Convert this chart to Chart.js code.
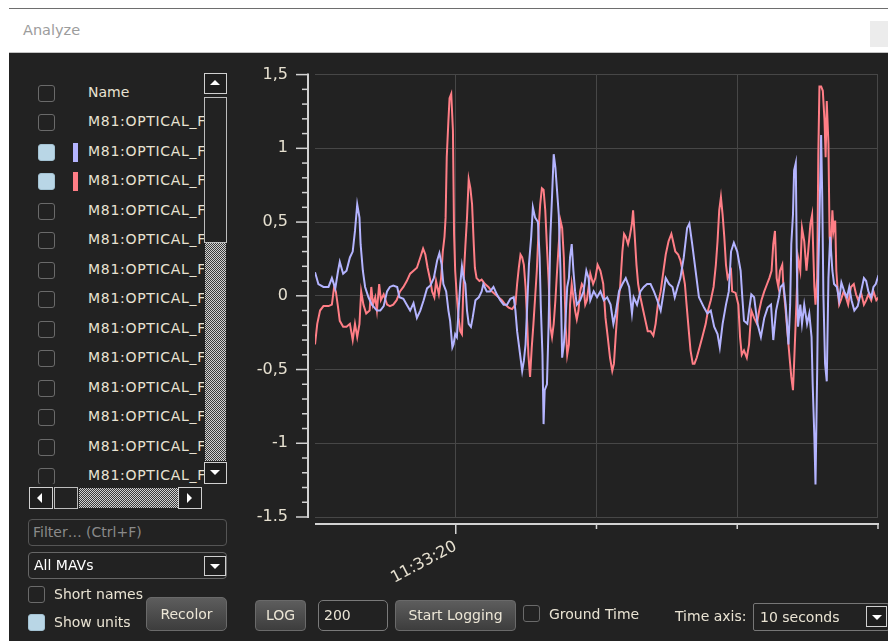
<!DOCTYPE html>
<html>
<head>
<meta charset="utf-8">
<title>Analyze</title>
<script src="https://cdn.jsdelivr.net/npm/chart.js@4.4.1/dist/chart.umd.min.js"></script>
<style>
  html, body { margin: 0; padding: 0; }
  body { width: 888px; height: 641px; position: relative; overflow: hidden; background: #fff;
         font-family: "DejaVu Sans", sans-serif; font-size: 14px; color: #e9e3d3; }
  .abs { position: absolute; }
  .cb { position: absolute; width: 15px; height: 15px; border: 1px solid #6a6a6a; border-radius: 3px; }
  .cb.on { background: #b9d6e6; border-color: #a3c2d2; }
  .dither { background: repeating-conic-gradient(#d2d2d2 0% 25%, #3a3a3a 0% 50%) 0 0 / 2px 2px; }
  .arrowbox { position: absolute; box-sizing: border-box; border: 1px solid #d0d0d0; background: #1e1e1e; }
  .tri-up, .tri-down, .tri-left, .tri-right { position: absolute; width: 0; height: 0; }
  .tri-up { border-left: 5px solid transparent; border-right: 5px solid transparent; border-bottom: 5px solid #fff; }
  .tri-down { border-left: 5px solid transparent; border-right: 5px solid transparent; border-top: 5px solid #fff; }
  .tri-left { border-top: 5px solid transparent; border-bottom: 5px solid transparent; border-right: 5px solid #fff; }
  .tri-right { border-top: 5px solid transparent; border-bottom: 5px solid transparent; border-left: 5px solid #fff; }
  .btn { position: absolute; box-sizing: border-box; background: linear-gradient(#5d5d5d, #3d3d3d);
         border: 1px solid #6a6a6a; border-radius: 4px; text-align: center; color: #ece6d6; }
  .field { position: absolute; box-sizing: border-box; border: 1px solid #707070; border-radius: 4px; background: #222; }
  .row { position: absolute; left: 0; height: 29.5px; width: 260px; white-space: nowrap; }
  .row span.name { letter-spacing: 0.7px; }
</style>
</head>
<body>
<!-- title bar -->
<div class="abs" style="left:9px;top:8px;width:879px;height:1px;background:#6e6e6e"></div>
<div class="abs" style="left:23px;top:22px;color:#9c9c9c;font-size:14.5px">Analyze</div>
<div class="abs" style="left:870px;top:21px;width:18px;height:26px;background:#ececec"></div>
<div class="abs" style="left:9px;top:52px;width:879px;height:1px;background:#c4c4c4"></div>
<div class="abs" style="left:9px;top:53px;width:879px;height:588px;background:#222"></div>

<!-- plot (drawn before the widgets so they stay on top) -->
<div class="abs" style="left:240px;top:38px;width:667px;height:558px">
  <canvas id="plot" width="667" height="558" style="width:667px;height:558px"></canvas>
</div>

<!-- channel list -->
<div class="abs" id="list" style="left:29px;top:68px;width:175px;height:416px;overflow:hidden"></div>

<!-- vertical scrollbar -->
<div class="arrowbox" style="left:204px;top:73px;width:23px;height:21px"><div class="tri-up" style="left:5px;top:6px"></div></div>
<div class="abs" style="left:204px;top:97px;width:23px;height:146px;box-sizing:border-box;border:1.5px solid #bdbdbd;background:#222"></div>
<div class="abs dither" style="left:205px;top:243px;width:21px;height:218px"></div>
<div class="arrowbox" style="left:204px;top:462px;width:23px;height:22px"><div class="tri-down" style="left:5px;top:7px"></div></div>

<!-- horizontal scrollbar -->
<div class="arrowbox" style="left:29px;top:487px;width:24px;height:22px"><div class="tri-left" style="left:7px;top:5px"></div></div>
<div class="abs" style="left:54px;top:487px;width:24px;height:22px;box-sizing:border-box;border:1.5px solid #bdbdbd;background:#222"></div>
<div class="abs dither" style="left:79px;top:488px;width:99px;height:20px"></div>
<div class="arrowbox" style="left:178px;top:487px;width:24px;height:22px"><div class="tri-right" style="left:8px;top:5px"></div></div>

<!-- filter and combo -->
<div class="field" style="left:28px;top:519px;width:199px;height:27px;border-color:#555"><span class="abs" style="left:4px;top:4px;color:#8a8a8a">Filter… (Ctrl+F)</span></div>
<div class="field" style="left:28px;top:552px;width:199px;height:27px;border-color:#666"><span class="abs" style="left:5px;top:4px;color:#fff">All MAVs</span>
  <div class="arrowbox" style="left:175px;top:3px;width:22px;height:20px"><div class="tri-down" style="left:5px;top:7px"></div></div></div>

<div class="cb" style="left:28px;top:586px"></div>
<div class="abs" style="left:54px;top:586px">Short names</div>
<div class="cb on" style="left:28px;top:614px"></div>
<div class="abs" style="left:54px;top:614px">Show units</div>
<div class="btn" style="left:146px;top:597px;width:81px;height:34px;line-height:32px;border-radius:5px">Recolor</div>

<!-- bottom bar -->
<div class="btn" style="left:255px;top:600px;width:51px;height:31px;line-height:29px">LOG</div>
<div class="field" style="left:318px;top:600px;width:70px;height:31px;border-color:#7a7a7a;border-radius:5px"><span class="abs" style="left:5px;top:6px">200</span></div>
<div class="btn" style="left:395px;top:600px;width:121px;height:31px;line-height:29px">Start Logging</div>
<div class="cb" style="left:523px;top:605px"></div>
<div class="abs" style="left:549px;top:606px">Ground Time</div>
<div class="abs" style="left:675px;top:608px">Time axis:</div>
<div class="field" style="left:753px;top:603px;width:136px;height:28px;border-color:#777;border-radius:2px"><span class="abs" style="left:6px;top:5px">10 seconds</span>
  <div class="arrowbox" style="left:112px;top:2px;width:21px;height:21px"><div class="tri-down" style="left:5px;top:8px"></div></div></div>

<script>
// list entries
const channelNames = ['M81:OPTICAL_FLOW', 'M81:OPTICAL_FLOW', 'M81:OPTICAL_FLOW', 'M81:OPTICAL_FLOW',
  'M81:OPTICAL_FLOW', 'M81:OPTICAL_FLOW', 'M81:OPTICAL_FLOW', 'M81:OPTICAL_FLOW', 'M81:OPTICAL_FLOW',
  'M81:OPTICAL_FLOW', 'M81:OPTICAL_FLOW', 'M81:OPTICAL_FLOW', 'M81:OPTICAL_FLOW'];
const channelColors = [null, '#b4b4ff', '#ff7e86', null, null, null, null, null, null, null, null, null, null];

// plotted series (time in seconds after 11:33:00)
const blueTimes = [17.50, 17.56, 17.65, 17.74, 17.80, 17.86, 17.91, 17.94, 18.00, 18.06, 18.12, 18.17, 18.21, 18.25, 18.29,
  18.31, 18.35, 18.39, 18.45, 18.51, 18.60, 18.66, 18.72, 18.78, 18.83, 18.89, 18.96, 19.00, 19.07, 19.13, 19.19, 19.25,
  19.31, 19.37, 19.43, 19.49, 19.55, 19.61, 19.67, 19.71, 19.75, 19.78, 19.83, 19.87, 19.90, 19.94, 19.96, 19.99, 20.02,
  20.05, 20.08, 20.11, 20.14, 20.17, 20.20, 20.23, 20.27, 20.30, 20.35, 20.41, 20.46, 20.49, 20.55, 20.61, 20.67, 20.73,
  20.79, 20.85, 20.91, 20.97, 21.03, 21.06, 21.09, 21.12, 21.15, 21.18, 21.21, 21.24, 21.27, 21.30, 21.34, 21.37, 21.41,
  21.46, 21.49, 21.51, 21.54, 21.56, 21.58, 21.62, 21.65, 21.68, 21.71, 21.74, 21.77, 21.80, 21.83, 21.86, 21.89, 21.92,
  21.95, 21.98, 22.01, 22.03, 22.06, 22.09, 22.12, 22.15, 22.21, 22.27, 22.32, 22.36, 22.39, 22.45, 22.51, 22.57, 22.63,
  22.69, 22.75, 22.80, 22.84, 22.90, 22.96, 23.02, 23.08, 23.13, 23.16, 23.22, 23.28, 23.34, 23.40, 23.46, 23.52, 23.58,
  23.64, 23.67, 23.73, 23.79, 23.85, 23.89, 23.94, 23.99, 24.05, 24.11, 24.15, 24.20, 24.26, 24.32, 24.41, 24.47, 24.53,
  24.59, 24.65, 24.69, 24.74, 24.80, 24.85, 24.89, 24.94, 25.00, 25.06, 25.09, 25.12, 25.18, 25.21, 25.25, 25.30, 25.33,
  25.36, 25.42, 25.48, 25.54, 25.60, 25.64, 25.69, 25.74, 25.77, 25.82, 25.86, 25.91, 25.94, 25.96, 25.99, 26.01, 26.04,
  26.06, 26.08, 26.12, 26.15, 26.19, 26.24, 26.28, 26.32, 26.34, 26.37, 26.39, 26.42, 26.44, 26.46, 26.49, 26.51, 26.53,
  26.56, 26.59, 26.62, 26.65, 26.69, 26.72, 26.77, 26.81, 26.85, 26.90, 26.95, 26.99, 27.03, 27.08, 27.14, 27.20, 27.25,
  27.29, 27.33, 27.38, 27.42, 27.46, 27.51, 27.54];
const blueValues = [0.16, 0.08, 0.06, 0.06, 0.12, 0.05, 0.17, 0.23, 0.15, 0.17, 0.26, 0.30, 0.44, 0.62, 0.53,
  0.35, 0.17, 0.06, -0.01, -0.06, -0.10, -0.10, -0.07, 0.03, 0.06, 0.07, 0.06, -0.01, -0.02, -0.06, -0.10, -0.05,
  -0.15, -0.10, -0.03, 0.05, 0.07, 0.12, 0.24, 0.29, 0.21, 0.08, 0.03, -0.10, -0.17, -0.35, -0.33, -0.26, -0.28,
  -0.10, 0.08, 0.20, 0.12, 0.08, -0.10, -0.19, -0.21, -0.15, -0.03, -0.01, 0.03, 0.08, 0.03, 0.03, 0.06, 0.01,
  -0.03, -0.06, -0.06, -0.02, -0.01, -0.10, -0.24, -0.33, -0.42, -0.51, -0.44, -0.33, -0.06, 0.21, 0.40, 0.60, 0.53,
  0.50, 0.26, -0.06, -0.40, -0.87, -0.64, -0.60, -0.19, 0.40, 0.67, 0.96, 0.87, 0.71, 0.55, 0.17, -0.42, -0.33,
  -0.17, 0.06, 0.12, 0.26, 0.35, 0.17, 0.03, -0.06, -0.03, 0.03, 0.17, 0.12, -0.03, 0.03, -0.01, 0.03, -0.03,
  -0.01, -0.06, -0.19, -0.12, 0.03, 0.08, 0.12, 0.06, -0.12, -0.01, -0.06, 0.03, 0.06, 0.08, 0.08, 0.03, -0.03,
  -0.10, -0.03, 0.12, 0.08, 0.06, -0.01, 0.06, 0.12, 0.26, 0.46, 0.49, 0.35, 0.17, -0.01, -0.08, -0.12, -0.10,
  -0.21, -0.26, -0.35, -0.19, -0.06, 0.03, 0.30, 0.36, 0.30, 0.17, -0.01, -0.17, -0.19, -0.10, 0.01, -0.01, -0.10,
  -0.19, -0.28, -0.15, -0.08, -0.06, -0.30, -0.10, -0.01, 0.06, 0.08, -0.06, -0.33, -0.06, 0.35, 0.55, 0.85, 0.90,
  0.17, -0.21, -0.06, -0.19, -0.06, -0.19, -0.12, -0.28, -0.60, -0.96, -1.28, -0.51, 0.17, 0.51, 1.09, 0.67, 0.01,
  -0.46, -0.58, 0.12, 0.40, 0.17, 0.08, 0.06, -0.03, 0.09, 0.03, -0.01, 0.06, -0.03, -0.10, -0.07, 0.03, 0.12,
  0.10, 0.03, -0.01, 0.06, 0.08, 0.14, 0.12];

const redTimes = [17.50, 17.54, 17.59, 17.65, 17.74, 17.80, 17.84, 17.87, 17.91, 17.94, 18.00, 18.06, 18.12, 18.17, 18.21,
  18.25, 18.29, 18.32, 18.36, 18.41, 18.47, 18.50, 18.53, 18.57, 18.60, 18.64, 18.67, 18.72, 18.78, 18.83, 18.89, 18.95,
  19.01, 19.07, 19.13, 19.19, 19.25, 19.31, 19.37, 19.42, 19.46, 19.50, 19.55, 19.58, 19.62, 19.65, 19.70, 19.74, 19.77,
  19.80, 19.82, 19.84, 19.87, 19.89, 19.92, 19.95, 19.97, 19.99, 20.02, 20.05, 20.08, 20.11, 20.13, 20.15, 20.17, 20.20,
  20.23, 20.26, 20.29, 20.32, 20.34, 20.37, 20.42, 20.46, 20.52, 20.58, 20.64, 20.70, 20.76, 20.82, 20.88, 20.94, 21.00,
  21.06, 21.09, 21.12, 21.15, 21.18, 21.21, 21.24, 21.27, 21.29, 21.32, 21.35, 21.38, 21.41, 21.44, 21.47, 21.50, 21.53,
  21.56, 21.59, 21.62, 21.65, 21.68, 21.71, 21.74, 21.77, 21.80, 21.83, 21.86, 21.89, 21.92, 21.95, 21.98, 22.01, 22.03,
  22.06, 22.09, 22.12, 22.15, 22.18, 22.21, 22.24, 22.27, 22.30, 22.33, 22.39, 22.44, 22.48, 22.52, 22.57, 22.62, 22.66,
  22.70, 22.74, 22.78, 22.81, 22.84, 22.88, 22.92, 22.96, 22.99, 23.02, 23.06, 23.09, 23.13, 23.15, 23.18, 23.21, 23.24,
  23.28, 23.33, 23.37, 23.41, 23.46, 23.51, 23.55, 23.59, 23.64, 23.69, 23.73, 23.78, 23.83, 23.86, 23.90, 23.95, 23.99,
  24.03, 24.07, 24.10, 24.14, 24.17, 24.21, 24.24, 24.28, 24.33, 24.38, 24.44, 24.48, 24.53, 24.58, 24.62, 24.65, 24.68,
  24.71, 24.74, 24.77, 24.80, 24.83, 24.89, 24.91, 24.97, 25.02, 25.05, 25.08, 25.12, 25.17, 25.21, 25.25, 25.30, 25.35,
  25.39, 25.43, 25.48, 25.53, 25.57, 25.61, 25.64, 25.67, 25.70, 25.73, 25.76, 25.80, 25.82, 25.86, 25.89, 25.93, 25.96,
  25.99, 26.01, 26.05, 26.08, 26.12, 26.15, 26.19, 26.23, 26.26, 26.30, 26.33, 26.37, 26.39, 26.42, 26.44, 26.46, 26.49,
  26.52, 26.55, 26.57, 26.59, 26.62, 26.64, 26.66, 26.69, 26.71, 26.74, 26.76, 26.78, 26.81, 26.84, 26.89, 26.93, 26.97,
  27.02, 27.07, 27.11, 27.15, 27.20, 27.25, 27.29, 27.33, 27.38, 27.42, 27.47, 27.51, 27.54];
const redValues = [-0.33, -0.19, -0.10, -0.07, -0.07, -0.06, 0.06, 0.03, -0.08, -0.17, -0.21, -0.21, -0.19, -0.30, -0.19,
  -0.28, -0.19, 0.03, -0.06, -0.12, -0.10, 0.06, -0.06, -0.01, -0.10, 0.08, -0.03, 0.01, -0.06, -0.07, -0.06, -0.03,
  0.03, 0.06, 0.10, 0.15, 0.17, 0.19, 0.26, 0.32, 0.28, 0.19, 0.10, 0.03, -0.01, 0.10, 0.01, 0.12, 0.30,
  0.40, 0.53, 0.94, 1.19, 1.34, 1.37, 1.12, 0.42, 0.17, -0.01, -0.15, -0.24, -0.26, -0.01, 0.19, 0.33, 0.53,
  0.79, 0.73, 0.62, 0.35, 0.19, 0.12, 0.10, 0.11, 0.08, 0.06, 0.03, 0.01, -0.01, -0.03, -0.06, -0.08, -0.09,
  -0.06, 0.08, 0.19, 0.28, 0.26, 0.21, 0.06, -0.19, -0.40, -0.55, -0.35, -0.19, -0.01, 0.17, 0.44, 0.62, 0.73,
  0.72, 0.58, 0.33, 0.10, -0.21, -0.28, -0.19, -0.03, 0.17, 0.35, 0.51, 0.46, 0.26, -0.19, -0.40, -0.33, -0.06,
  0.08, -0.01, -0.10, -0.16, -0.10, 0.03, 0.08, 0.06, -0.06, -0.03, 0.15, 0.08, 0.12, 0.21, 0.17, 0.08, -0.15,
  -0.28, -0.42, -0.51, -0.46, -0.28, -0.06, 0.06, 0.30, 0.42, 0.40, 0.35, 0.40, 0.49, 0.58, 0.40, 0.21, 0.08,
  -0.01, -0.10, -0.17, -0.24, -0.24, -0.27, -0.19, -0.06, 0.03, 0.17, 0.28, 0.37, 0.42, 0.37, 0.30, 0.28, 0.24,
  0.17, 0.08, -0.06, -0.24, -0.37, -0.46, -0.46, -0.42, -0.35, -0.28, -0.19, -0.10, -0.03, 0.06, 0.21, 0.37, 0.58,
  0.67, 0.55, 0.40, 0.21, 0.12, 0.17, 0.03, 0.02, -0.06, -0.28, -0.40, -0.37, -0.42, -0.33, -0.10, -0.15, -0.19,
  -0.10, -0.03, 0.03, 0.08, 0.12, 0.17, 0.35, 0.44, 0.12, 0.06, 0.17, 0.21, 0.06, -0.10, -0.24, -0.42, -0.55,
  -0.64, -0.46, -0.06, 0.26, 0.17, 0.46, 0.37, 0.17, 0.30, 0.49, 0.55, 0.06, -0.06, 0.12, 0.96, 1.42, 1.42,
  1.39, 1.19, 0.94, 1.32, 1.03, 0.40, 0.30, 0.58, 0.44, 0.51, 0.17, 0.06, -0.06, -0.03, 0.03, -0.01, -0.06,
  0.06, 0.08, 0.01, -0.03, 0.02, -0.06, -0.03, 0.01, -0.03, 0.03, -0.03, -0.01, -0.02];

// axes
const yTickLabels = ['-1.5', '-1', '-0,5', '0', '0,5', '1', '1,5'];
const xTickLabel = '11:33:20';
const xLabelAt = 20;
const xMin = 17.5;
const xMax = 27.5;

// build the list on the left
const list = document.getElementById('list');
const header = document.createElement('div');
header.className = 'row';
header.style.top = '10.5px';
header.innerHTML = '<div class="cb" style="left:9px;top:6px"></div><span class="abs" style="left:59px;top:5px">Name</span>';
list.appendChild(header);
channelNames.forEach((name, i) => {
    const row = document.createElement('div');
    row.className = 'row';
    row.style.top = (10.5 + (i + 1) * 29.5) + 'px';
    const color = channelColors[i];
    let html = '<div class="cb' + (color ? ' on' : '') + '" style="left:9px;top:6px"></div>';
    if (color) html += '<div class="abs" style="left:44px;top:5px;width:5px;height:19px;background:' + color + '"></div>';
    html += '<span class="abs name" style="left:59px;top:5px">' + name + '</span>';
    row.innerHTML = html;
    list.appendChild(row);
});

function toPoints(times, values) {
    return times.map((t, i) => ({ x: t, y: values[i] }));
}

// axis lines sit a few pixels away from the plot, like the original widget
const axisDecor = {
    id: 'axisDecor',
    afterDraw(chart) {
        const { ctx, chartArea, scales: { x, y } } = chart;
        ctx.save();
        ctx.strokeStyle = '#d2d2d2';
        ctx.lineWidth = 2;
        const ax = chartArea.left - 7;
        ctx.beginPath();
        ctx.moveTo(ax, y.getPixelForValue(1.5) - 1);
        ctx.lineTo(ax, y.getPixelForValue(-1.5) + 1);
        ctx.stroke();
        ctx.lineWidth = 1.5;
        for (let i = -15; i <= 15; i++) {
            const py = y.getPixelForValue(i / 10);
            const len = i % 5 === 0 ? 12 : 6;
            ctx.beginPath();
            ctx.moveTo(ax - len, py);
            ctx.lineTo(ax, py);
            ctx.stroke();
        }
        const ay = chartArea.bottom + 7;
        ctx.lineWidth = 2;
        ctx.beginPath();
        ctx.moveTo(chartArea.left, ay);
        ctx.lineTo(chartArea.right + 1, ay);
        ctx.stroke();
        ctx.lineWidth = 1.5;
        x.ticks.forEach(t => {
            if (t.value === xMin) return;
            const px = x.getPixelForValue(t.value);
            const len = t.value === xLabelAt ? 10 : 5;
            ctx.beginPath();
            ctx.moveTo(px, ay);
            ctx.lineTo(px, ay + len);
            ctx.stroke();
        });
        ctx.restore();
    }
};

Chart.defaults.font.family = 'DejaVu Sans';

const plot = new Chart(document.getElementById('plot').getContext('2d'), {
    type: 'line',
    data: {
        datasets: [{
            label: 'M81:OPTICAL_FLOW (1)',
            data: toPoints(blueTimes, blueValues),
            borderColor: '#b4b4ff',
            borderWidth: 2,
            pointRadius: 0,
            tension: 0,
            order: 0
        }, {
            label: 'M81:OPTICAL_FLOW (2)',
            data: toPoints(redTimes, redValues),
            borderColor: '#ff7e86',
            borderWidth: 2,
            pointRadius: 0,
            tension: 0,
            order: 1
        }]
    },
    options: {
        responsive: false,
        animation: false,
        layout: { padding: { top: 18, right: 11, left: 0, bottom: 0 } },
        plugins: {
            legend: { display: false },
            tooltip: { enabled: false }
        },
        scales: {
            x: {
                type: 'linear',
                min: xMin,
                max: xMax,
                afterFit: (s) => { s.height = 79; },
                border: { display: false },
                grid: {
                    color: (c) => (c.tick && c.tick.value === xMin) ? 'rgba(0,0,0,0)' : '#474747',
                    lineWidth: 1,
                    drawTicks: false
                },
                ticks: {
                    stepSize: 2.5,
                    autoSkip: false,
                    minRotation: 28,
                    maxRotation: 28,
                    padding: 20,
                    color: '#e6e0d0',
                    font: { size: 16 },
                    callback: (v) => v === xLabelAt ? xTickLabel : ''
                }
            },
            y: {
                min: -1.5,
                max: 1.5,
                afterFit: (s) => { s.width = 75; },
                border: { display: false },
                grid: { color: '#474747', lineWidth: 1, drawTicks: false },
                ticks: {
                    stepSize: 0.5,
                    padding: 27,
                    color: '#e6e0d0',
                    font: { size: 16 },
                    callback: (v, i) => yTickLabels[i]
                }
            }
        }
    },
    plugins: [axisDecor]
});
</script>
</body>
</html>
